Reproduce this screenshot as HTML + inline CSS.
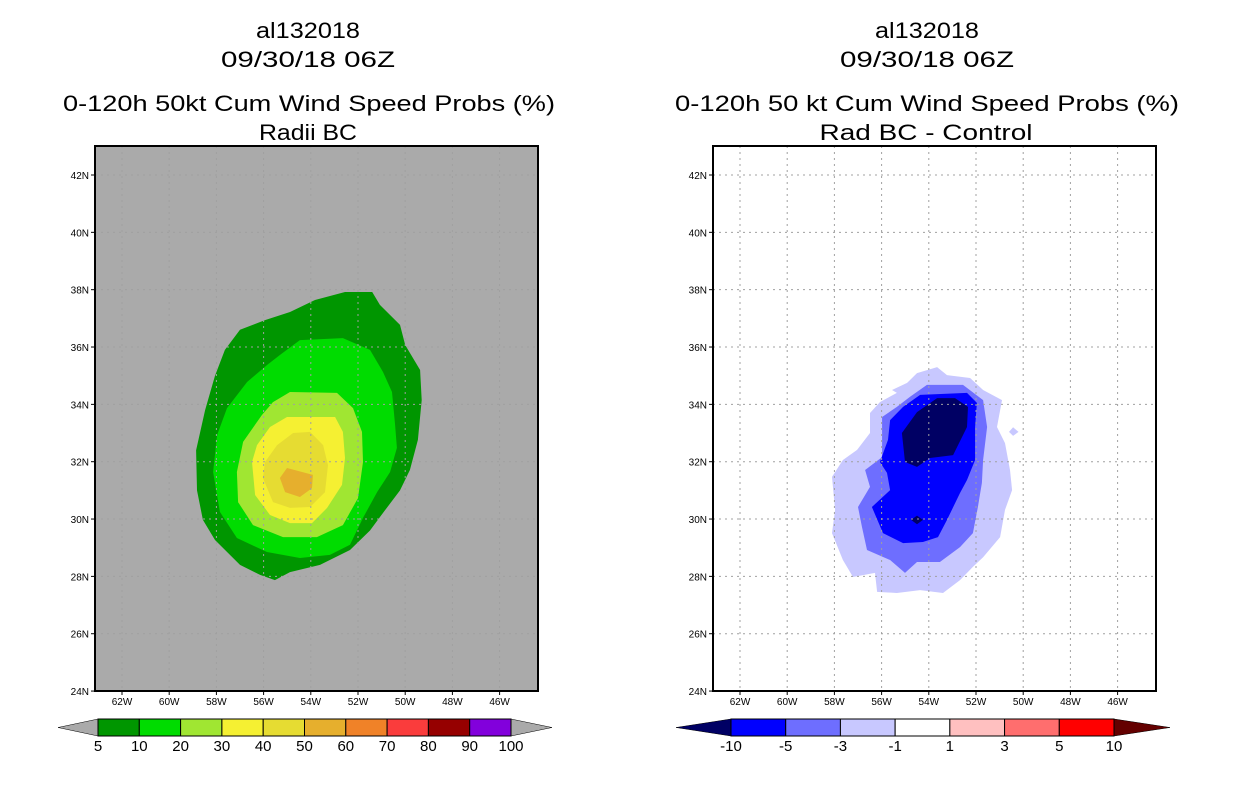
<!DOCTYPE html>
<html><head><meta charset="utf-8"><style>
body{margin:0;background:#fff;}
svg{display:block;font-family:"Liberation Sans",sans-serif;}
</style></head><body>
<svg id="c" width="1236" height="800" xmlns="http://www.w3.org/2000/svg"></svg>
<script>
// ---- data ----
const latTicks=[42,40,38,36,34,32,30,28,26,24];
const lonTicks=[-62,-60,-58,-56,-54,-52,-50,-48,-46];
const leftLevels=["5","10","20","30","40","50","60","70","80","90","100"];
const leftColors=["#009600","#00dc00","#a0e632","#f5f032","#e6dc32","#e6af2d","#f08228","#fa3c3c","#960000","#8200dc"];
const rightLevels=["-10","-5","-3","-1","1","3","5","10"];
const rightColors=["#0000ff","#6e6eff","#c8c8ff","#ffffff","#ffc0c0","#ff6e6e","#ff0000"];
const p5Lon=[-52.55,-51.4,-51.07,-50.22,-50.0,-49.37,-49.3,-49.46,-49.8,-50.22,-50.86,-51.49,-52.34,-53.61,-54.88,-55.52,-56.15,-57.0,-58.06,-58.57,-58.82,-58.86,-58.48,-58.06,-57.64,-57.0,-55.94,-54.88,-53.82];
const p5Lat=[37.92,37.92,37.47,36.77,36.07,35.2,34.15,32.76,31.71,31.0,30.3,29.6,28.92,28.4,28.15,27.87,28.05,28.4,29.27,29.97,31.0,32.4,33.8,35.0,35.9,36.6,36.94,37.22,37.64];
const p10Lon=[-54.46,-52.64,-51.49,-50.94,-50.56,-50.43,-50.35,-50.64,-51.19,-51.79,-52.34,-53.19,-54.46,-55.86,-57.13,-57.85,-58.14,-57.97,-57.55,-56.7,-55.86,-55.31];
const p10Lat=[36.24,36.31,35.9,35.13,34.43,33.28,32.48,31.64,30.94,30.04,29.1,28.75,28.64,28.85,29.34,30.25,31.64,32.93,33.87,34.78,35.37,35.72];
const p20Lon=[-54.88,-52.89,-52.21,-51.83,-51.79,-52.0,-52.64,-53.74,-55.18,-56.45,-57.08,-57.13,-56.87,-56.07,-55.6];
const p20Lat=[34.43,34.4,33.87,33.04,31.99,30.73,29.79,29.37,29.37,29.79,30.59,31.64,32.69,33.63,34.08];
const p30Lon=[-55.01,-52.97,-52.64,-52.55,-52.68,-53.31,-53.95,-54.88,-55.73,-56.36,-56.49,-56.28,-55.73];
const p30Lat=[33.56,33.56,33.04,32.13,31.19,30.39,29.86,29.86,30.14,30.84,31.99,32.58,33.21];
const p40Lon=[-54.75,-54.03,-53.48,-53.27,-53.4,-54.03,-54.88,-55.6,-56.03,-55.94,-55.43];
const p40Lat=[33.0,33.04,32.58,31.88,30.94,30.42,30.39,30.59,31.43,31.99,32.58];
const p50Lon=[-55.01,-53.91,-53.95,-54.46,-55.09,-55.31];
const p50Lat=[31.78,31.54,31.08,30.77,30.94,31.43];
const d1Lon=[-54.5,-53.65,-53.23,-52.25,-51.7,-50.9,-51.11,-50.77,-50.56,-50.47,-50.77,-50.98,-51.7,-52.13,-52.68,-53.4,-54.37,-55.35,-56.19,-56.28,-57.21,-57.64,-58.1,-57.97,-58.1,-57.64,-57.04,-56.49,-56.49,-56.07,-55.35,-55.56,-54.92];
const d1Lat=[35.09,35.3,35.02,34.92,34.5,34.15,33.21,32.65,31.71,31.01,30.32,29.37,28.67,28.33,27.87,27.42,27.52,27.42,27.46,28.12,27.98,28.57,29.51,30.32,31.47,32.06,32.41,33.0,33.7,34.08,34.4,34.5,34.75];
const d1bLon=[-50.6,-50.43,-50.2,-50.43];
const d1bLat=[33.04,33.2,33.04,32.9];
const d3Lon=[-54.08,-52.55,-51.7,-51.53,-51.7,-51.75,-51.92,-52.13,-52.68,-53.53,-54.5,-55.01,-55.64,-56.62,-56.83,-57.0,-56.49,-56.7,-55.98,-55.98,-55.35,-54.8];
const d3Lat=[34.68,34.68,34.15,33.21,32.06,31.26,30.42,29.51,29.02,28.5,28.5,28.12,28.57,28.92,29.72,30.42,31.12,31.71,32.16,33.56,33.91,34.26];
const d5Lon=[-54.37,-52.38,-51.96,-52.04,-52.04,-52.38,-52.68,-53.23,-53.61,-54.25,-55.09,-55.94,-56.41,-55.64,-55.77,-56.07,-55.73,-55.64,-55.09];
const d5Lat=[34.33,34.4,34.05,33.21,32.06,31.36,30.91,29.97,29.37,29.2,29.16,29.51,30.42,31.01,31.61,31.99,32.76,33.45,33.91];
const d10Lon=[-54.5,-53.65,-52.89,-52.34,-52.38,-52.97,-53.95,-54.5,-55.01,-55.14];
const d10Lat=[33.73,34.22,34.22,33.91,33.21,32.23,32.13,31.82,31.99,33.0];
const d10bLon=[-54.75,-54.5,-54.25,-54.5];
const d10bLat=[29.97,30.12,29.97,29.82];

// ---- helpers ----
const NS="http://www.w3.org/2000/svg";
const svg=document.getElementById('c');
function mk(tag,attrs,parent){const e=document.createElementNS(NS,tag);for(const k in attrs)e.setAttribute(k,attrs[k]);(parent||svg).appendChild(e);return e;}
const PY0=146,PY1=691,PW=443;
function xs(ox){return lon=>ox+27+(lon+62)*23.6;}
function ys(lat){return 175+(42-lat)*28.67;}
function poly(lons,lats,fill,ox,name){
  const X=xs(ox);
  const pts=lons.map((l,i)=>X(l).toFixed(1)+','+ys(lats[i]).toFixed(1)).join(' ');
  const p=mk('polygon',{points:pts,fill:fill});
  
  
}
function text(x,y,s,size,anchor,name,len){
  const t=mk('text',{x:x,y:y,'font-size':size,'text-anchor':anchor||'middle',fill:'#000'});
  if(len){t.setAttribute('textLength',len);t.setAttribute('lengthAdjust','spacingAndGlyphs');}
  t.textContent=s;
  
  
  return t;
}
function panel(ox,bg,polys,prefix){
  const r=mk('rect',{x:ox,y:PY0,width:PW,height:PY1-PY0,fill:bg});
  
  
  polys.forEach(p=>poly(p[0],p[1],p[2],ox,p[3]));
  const X=xs(ox);
  lonTicks.forEach(l=>{
    const g=mk('line',{x1:X(l),x2:X(l),y1:PY0,y2:PY1,stroke:'#a0a0a0','stroke-width':1,'stroke-dasharray':'2,4'});
    
    
    const tk=mk('line',{x1:X(l),x2:X(l),y1:PY1,y2:PY1+4,stroke:'#000'});
    
    
    text(X(l),PY1+14,Math.abs(l)+'W',10,'middle',prefix+'-x-tick-label');
  });
  latTicks.forEach(l=>{
    if(l>24){
      const g=mk('line',{x1:ox,x2:ox+PW,y1:ys(l),y2:ys(l),stroke:'#a0a0a0','stroke-width':1,'stroke-dasharray':'2,4'});
      
      
    }
    const tk=mk('line',{x1:ox-4,x2:ox,y1:ys(l),y2:ys(l),stroke:'#000'});
    
    
    text(ox-6,ys(l)+4,l+'N',10,'end',prefix+'-y-tick-label');
  });
  const b=mk('rect',{x:ox,y:PY0,width:PW,height:PY1-PY0,fill:'none',stroke:'#000','stroke-width':2});
  
  
}
panel(95,'#aaaaaa',[
 [p5Lon,p5Lat,leftColors[0],'contour-5'],
 [p10Lon,p10Lat,leftColors[1],'contour-10'],
 [p20Lon,p20Lat,leftColors[2],'contour-20'],
 [p30Lon,p30Lat,leftColors[3],'contour-30'],
 [p40Lon,p40Lat,leftColors[4],'contour-40'],
 [p50Lon,p50Lat,leftColors[5],'contour-50']],'left');
panel(713,'#ffffff',[
 [d1Lon,d1Lat,rightColors[2],'diff-contour-minus1'],
 [d1bLon,d1bLat,rightColors[2],'diff-contour-minus1-blob'],
 [d3Lon,d3Lat,rightColors[1],'diff-contour-minus3'],
 [d5Lon,d5Lat,rightColors[0],'diff-contour-minus5'],
 [d10Lon,d10Lat,'#000064','diff-contour-minus10'],
 [d10bLon,d10bLat,'#000064','diff-contour-minus10-blob']],'right');

// ---- titles ----
text(308,38,'al132018',22,'middle','left-title-storm',104);
text(308,67,'09/30/18 06Z',22,'middle','left-title-date',174);
text(309,111,'0-120h 50kt Cum Wind Speed Probs (%)',22,'middle','left-title-main',492);
text(308,140,'Radii BC',22,'middle','left-title-sub',98);
text(927,38,'al132018',22,'middle','right-title-storm',104);
text(927,67,'09/30/18 06Z',22,'middle','right-title-date',174);
text(927,111,'0-120h 50 kt Cum Wind Speed Probs (%)',22,'middle','right-title-main',504);
text(926,140,'Rad BC - Control',22,'middle','right-title-sub',213);

// ---- colorbars ----
function colorbar(x0,x1,colors,labels,leftTri,rightTri,prefix){
  const y0=719,y1=736,ym=727.5,n=colors.length,w=(x1-x0)/n;
  const lt=mk('polygon',{points:`${x0},${y0} ${x0},${y1} ${leftTri[0]},${ym}`,fill:leftTri[1],stroke:'#000','stroke-width':0.5});
  
  
  const rt=mk('polygon',{points:`${x1},${y0} ${x1},${y1} ${rightTri[0]},${ym}`,fill:rightTri[1],stroke:'#000','stroke-width':0.5});
  
  
  colors.forEach((c,i)=>{
    const r=mk('rect',{x:x0+i*w,y:y0,width:w,height:y1-y0,fill:c,stroke:'#000','stroke-width':1});
    
    
  });
  labels.forEach((s,i)=>text(x0+i*w,751,s,15,'middle',prefix+'-colorbar-label'));
}
colorbar(98,511,leftColors,leftLevels,[58,'#aaaaaa'],[552,'#aaaaaa'],'left');
colorbar(731,1114,rightColors,rightLevels,[676,'#000064'],[1170,'#640000'],'right');
</script>
</body></html>
